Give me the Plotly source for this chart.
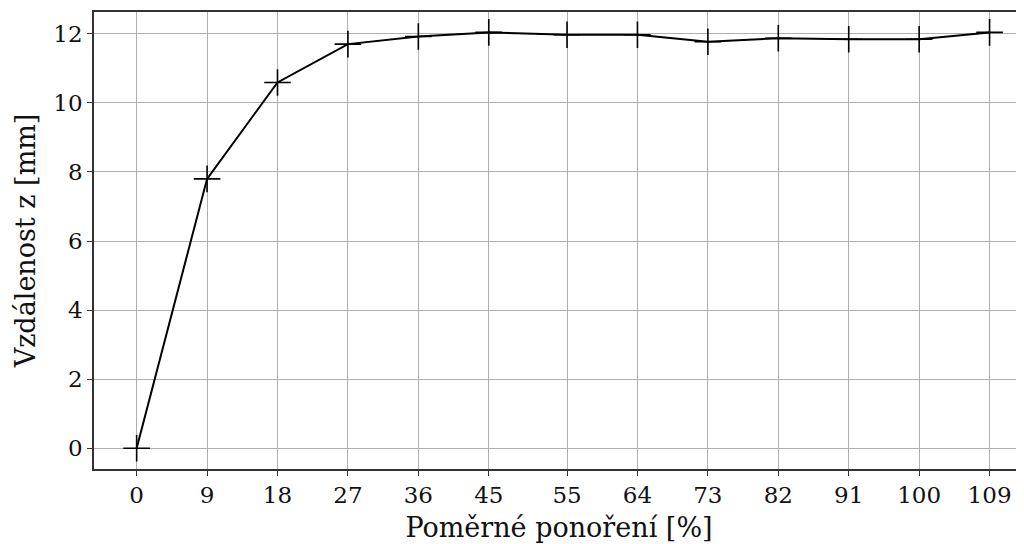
import plotly.graph_objects as go

# pomerne ponoreni [%] a vzdalenost z [mm]
ponoreni = [0, 9, 18, 27, 36, 45, 55, 64, 73, 82, 91, 100, 109]
vzdalenost = [0.0, 7.80, 10.59, 11.70, 11.92, 12.04, 11.97, 11.97, 11.77, 11.87, 11.84, 11.84, 12.04]
tick_text = [str(v) for v in ponoreni]

font_family = "DejaVu Serif"

fig = go.Figure()

fig.add_trace(go.Scatter(
    x=ponoreni,
    y=vzdalenost,
    mode="lines+markers",
    line=dict(color="black", width=2),
    marker=dict(symbol="cross-thin", size=19, color="black",
                line=dict(color="black", width=1.6)),
    showlegend=False,
    cliponaxis=False,
))

# stranka ma 8px okraj body -> figura 1016x536 a okraje posunute
fig.update_layout(
    width=1016,
    height=536,
    paper_bgcolor="white",
    plot_bgcolor="white",
    margin=dict(l=86, r=0, t=4, b=75),
    font=dict(family=font_family, size=23, color="#111111"),
    xaxis=dict(
        range=[-5.45, 113.4],
        tickvals=ponoreni,
        ticktext=tick_text,
        automargin=False,
        showgrid=True,
        gridcolor="#b0b0b0",
        gridwidth=1,
        showline=True,
        linecolor="#333333",
        linewidth=1.5,
        mirror=True,
        ticks="outside",
        ticklen=5,
        tickcolor="#333333",
        zeroline=False,
        title=dict(text="Poměrné ponoření [%]", font=dict(size=27), standoff=11),
    ),
    yaxis=dict(
        range=[-0.6, 12.63],
        tickvals=[0, 2, 4, 6, 8, 10, 12],
        automargin=False,
        showgrid=True,
        gridcolor="#b0b0b0",
        gridwidth=1,
        showline=True,
        linecolor="#333333",
        linewidth=1.5,
        ticks="outside",
        ticklen=5,
        tickcolor="#333333",
        zeroline=False,
        title=dict(text="Vzdálenost z [mm]", font=dict(size=27), standoff=10),
    ),
)

fig.write_html("out.html")
